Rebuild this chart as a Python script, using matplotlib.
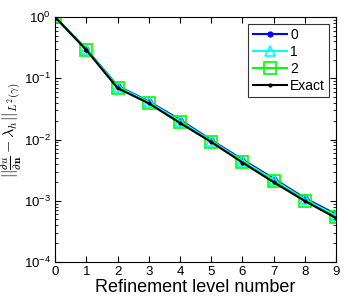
import matplotlib
matplotlib.use("Agg")
import matplotlib.pyplot as plt

plt.rcParams["font.family"] = ["Liberation Sans", "DejaVu Sans"]
plt.rcParams["mathtext.fontset"] = "cm"

levels = [0, 1, 2, 3, 4, 5, 6, 7, 8, 9]
err_0 = [1.0, 0.30, 0.075, 0.042, 0.021, 0.0098, 0.0047, 0.0023, 0.0011, 0.00060]
err_1 = [1.0, 0.30, 0.073, 0.041, 0.020, 0.0095, 0.0045, 0.0022, 0.00105, 0.00057]
err_2 = [1.0, 0.29, 0.070, 0.039, 0.019, 0.0092, 0.0043, 0.0021, 0.00100, 0.00054]
err_exact = [1.0, 0.29, 0.069, 0.039, 0.0186, 0.0091, 0.0042, 0.0020, 0.00099, 0.00052]

fig = plt.figure(figsize=(3.49, 3.00), dpi=100)
ax = fig.add_axes([0.158, 0.127, 0.805, 0.816])

ax.semilogy(levels, err_0, "-o", color="blue", lw=1.5, ms=3.5, label="0")
ax.semilogy(levels, err_1, "-^", color="cyan", lw=1.5, ms=7, mfc="none", mew=1.2, label="1")
ax.semilogy(levels, err_2, "-s", color="lime", lw=1.5, ms=9, mfc="none", mew=1.2, label="2")
ax.semilogy(levels, err_exact, color="black", lw=1.5, ls="-", marker=".", ms=4, label="Exact")

ax.set_xlim(0, 9)
ax.set_ylim(1e-4, 1e0)
ax.set_xticks(levels)
ax.tick_params(which="both", direction="in", top=True, right=True, labelsize=9.5, pad=3)
ax.tick_params(which="major", length=4)
ax.tick_params(which="minor", length=2)
ax.set_xlabel("Refinement level number", fontsize=13, labelpad=1)
ax.set_ylabel(r"$||\frac{\partial u}{\partial \mathbf{n}} - \lambda_h||_{L^2(\gamma)}$", fontsize=11.5)
ax.yaxis.set_label_coords(-0.11, 0.54)

leg = ax.legend(loc="upper right", fontsize=10, fancybox=False, edgecolor="black",
                handlelength=2.5, borderpad=0.3, labelspacing=0.2, handletextpad=0.2,
                borderaxespad=0.5)
leg.get_frame().set_linewidth(0.8)

fig.savefig("out.png", dpi=100)
